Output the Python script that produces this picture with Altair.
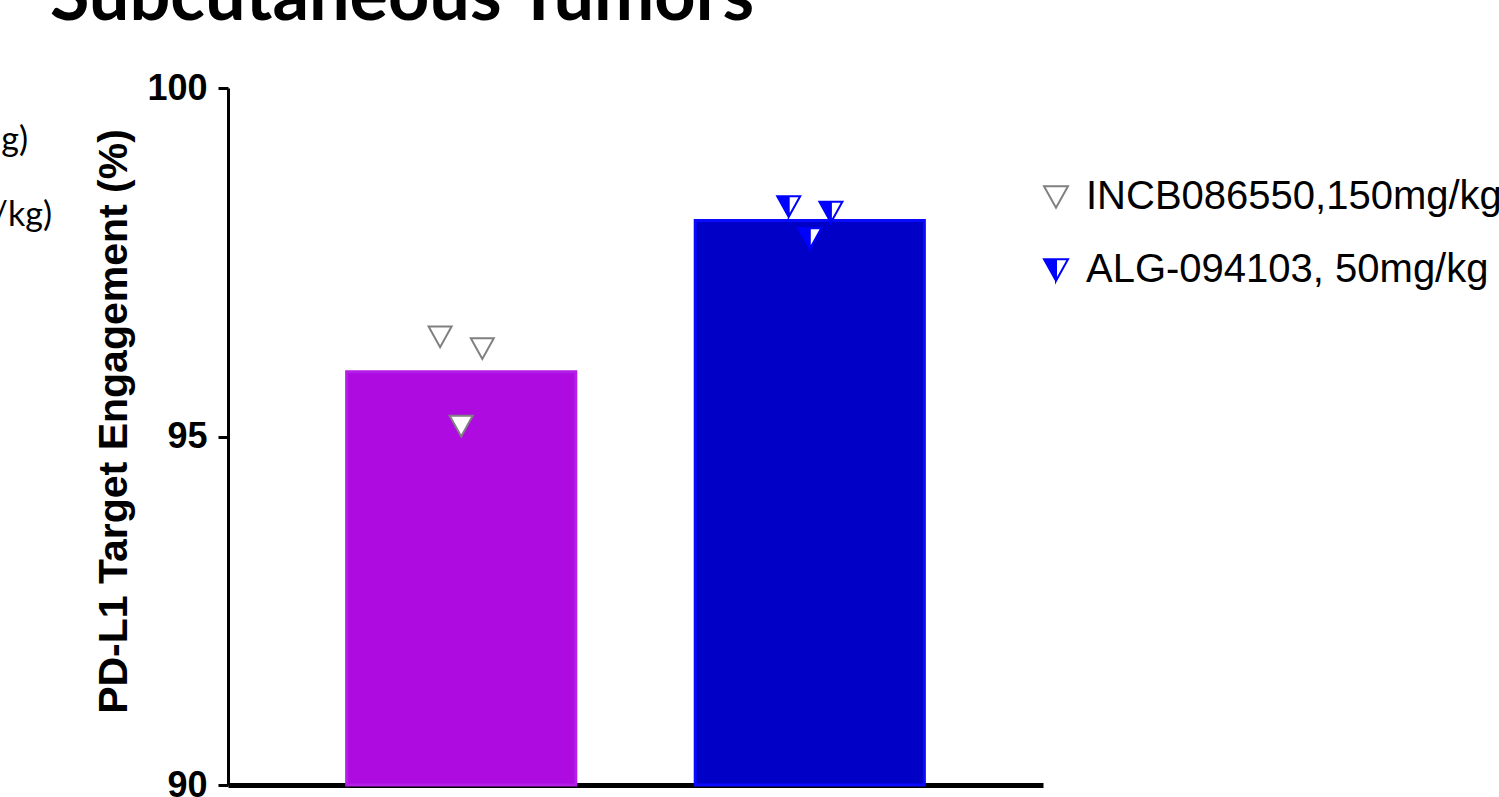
import altair as alt
import pandas as pd

# ---- data ----
groups = ["INCB086550,150mg/kg", "ALG-094103, 50mg/kg"]
bar_means = [95.93, 98.10]
incb_points = [96.43, 96.26, 95.15]
alg_points = [98.30, 98.22, 97.84]
jitter = [-1, 1, 0]
y_ticks = [90, 95, 100]
title_text = "Subcutaneous Tumors"
side_texts = ["g)", "/kg)"]

# ---- styles ----
bar_fill = ["#AD0BE0", "#0000C6"]
bar_stroke = ["#B41EE6", "#0A0AFF"]
marker_stroke = ["#808080", "#0000FF"]
marker_fill = ["#FFFFFF", "#0000FF"]
TRI = "M-1,-0.9L1,-0.9L0,0.9Z"
HALF = "M-1,-0.9L1,-0.9L0,0.9Z M0,-0.9L0,0.9L1,-0.9Z"
AX_FONT = "Liberation Sans"

bar_df = pd.DataFrame({"group": groups, "mean": bar_means})
pt_df = pd.DataFrame({
    "group": [groups[0]] * len(incb_points) + [groups[1]] * len(alg_points),
    "value": incb_points + alg_points,
    "jitter": jitter + jitter,
})

W, H = 815, 697
PAD_IN, PAD_OUT = 0.334, 0.336
BAR_W = W / (len(groups) - PAD_IN + 2 * PAD_OUT) * (1 - PAD_IN)
xsc = alt.Scale(domain=groups, paddingInner=PAD_IN, paddingOuter=PAD_OUT)
ysc = alt.Scale(domain=[90, 100], zero=False, nice=False)

x_enc = alt.X("group:N", scale=xsc, sort=groups,
              axis=alt.Axis(labels=False, ticks=False, title=None,
                            domainWidth=5, domainColor="black"))
y_axis = alt.Axis(values=y_ticks, format="d", grid=False,
                  title="PD-L1 Target Engagement (%)",
                  labelFont=AX_FONT, labelFontSize=36, labelFontWeight="bold",
                  labelColor="black", labelPadding=11,
                  tickSize=10, tickWidth=3, tickColor="black",
                  domainColor="black", domainWidth=3,
                  titleFont=AX_FONT, titleFontSize=41, titleFontWeight="bold",
                  titleColor="black", titleX=-93, titleY=333,
                  titleBaseline="bottom", titleAngle=270)

is_first = alt.datum.group == groups[0]

bars = alt.Chart(bar_df).mark_bar(strokeWidth=3, width=BAR_W - 3).encode(
    x=x_enc,
    y=alt.Y("mean:Q", scale=ysc, axis=y_axis),
    y2=alt.datum(90),
    fill=alt.condition(is_first, alt.value(bar_fill[0]), alt.value(bar_fill[1])),
    stroke=alt.condition(is_first, alt.value(bar_stroke[0]), alt.value(bar_stroke[1])),
)

xo = alt.XOffset("jitter:Q", scale=alt.Scale(domain=[-5.5, 5.5]))
yp = alt.Y("value:Q", scale=ysc)

under = alt.Chart(pt_df).mark_point(shape=TRI, size=529, filled=True,
                                     fill="white", strokeWidth=0,
                                     opacity=1).encode(x=x_enc, xOffset=xo, y=yp)

leg = alt.Legend(title=None, orient="none", legendX=808, legendY=89,
                 labelFont=AX_FONT, labelFontSize=40, labelColor="black",
                 symbolSize=576, symbolStrokeWidth=2, labelOffset=10,
                 rowPadding=33, padding=0, symbolOffset=0, labelLimit=2000)

markers = alt.Chart(pt_df).mark_point(size=529, strokeWidth=2, opacity=1,
                                       fillOpacity=1).encode(
    x=x_enc, xOffset=xo, y=yp,
    shape=alt.Shape("group:N", scale=alt.Scale(domain=groups, range=[TRI, HALF]), legend=leg),
    fill=alt.Fill("group:N", scale=alt.Scale(domain=groups, range=marker_fill), legend=leg),
    stroke=alt.Stroke("group:N", scale=alt.Scale(domain=groups, range=marker_stroke), legend=leg),
)

title = alt.Chart(pd.DataFrame({"t": [title_text]})).mark_text(
    font="Lato", fontSize=72, fontWeight="bold", align="left",
    baseline="alphabetic", color="black").encode(
    text="t:N", x=alt.value(-178), y=alt.value(-68))

side1 = alt.Chart(pd.DataFrame({"t": [side_texts[0]]})).mark_text(
    font="Lato", fontSize=34, align="right", baseline="alphabetic",
    color="black").encode(text="t:N", x=alt.value(-200), y=alt.value(63))
side2 = alt.Chart(pd.DataFrame({"t": [side_texts[1]]})).mark_text(
    font="Lato", fontSize=34, align="right", baseline="alphabetic",
    color="black").encode(text="t:N", x=alt.value(-176), y=alt.value(138))

chart = alt.layer(bars, under, markers, title, side1, side2).properties(
    width=W, height=H,
    background="white",
    padding={"left": 228, "top": 88, "right": 456, "bottom": 12},
    autosize=alt.AutoSizeParams(type="none"),
).configure_view(stroke=None)

chart.save("out.html", embed_options={"renderer": "svg", "actions": False})
